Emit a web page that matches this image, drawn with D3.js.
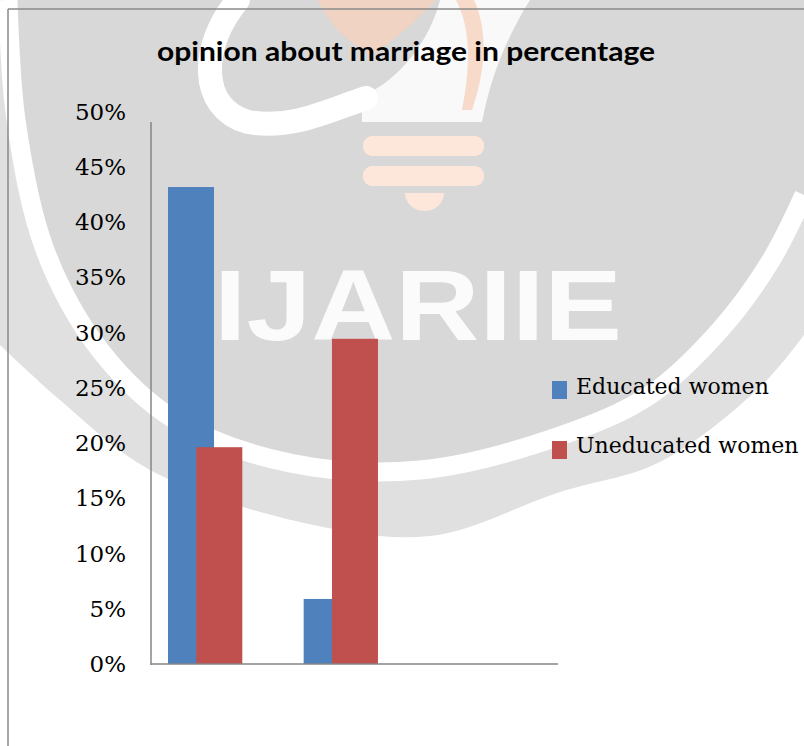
<!DOCTYPE html>
<html>
<head>
<meta charset="utf-8">
<script src="https://cdn.jsdelivr.net/npm/d3@7"></script>
<style>
  html, body { margin: 0; padding: 0; background: #ffffff; }
  svg { display: block; }
</style>
</head>
<body>
<svg id="chart" width="804" height="746"></svg>
<script>
// ---- data ----
const categories = ["Group 1", "Group 2", "Group 3"];
const educatedWomen = [0.44, 0.06, null];
const uneducatedWomen = [0.20, 0.30, null];
const seriesNames = ["Educated women", "Uneducated women"];
const seriesColors = ["#4F81BD", "#C0504D"];
const tickValues = [0, 0.05, 0.10, 0.15, 0.20, 0.25, 0.30, 0.35, 0.40, 0.45, 0.50];
const titleText = "opinion about marriage in percentage";

const svg = d3.select("#chart");

// ---- watermark (background logo, decorative) ----
const wm = svg.append("g");
const smooth = d3.line().curve(d3.curveCatmullRom.alpha(0.5));
const outerEdge = [[804, 335], [760, 387], [660, 462], [560, 492], [430, 536], [300, 522], [150, 470], [60, 400], [0, 345]];
wm.append("path")
  .attr("d", "M0,0 L804,0 " + smooth(outerEdge).replace(/^M/, "L") + " Z")
  .attr("fill", "#e0e0e0");
const ringPts = [[8, 0], [16, 120], [45, 250], [100, 350], [175, 420], [290, 463], [420, 470], [560, 436], [650, 395], [720, 330], [770, 262], [804, 195]];
wm.append("path")
  .attr("d", smooth(ringPts) + " L804,0 Z")
  .attr("fill", "#d8d8d8");
wm.append("path").attr("d", smooth(ringPts))
  .attr("fill", "none").attr("stroke", "#ffffff").attr("stroke-width", 19);
// bulb
wm.append("path").attr("d", "M 362 96 L 362 122 L 482 122 C 490 80, 505 40, 530 0 L 440 0 C 430 40, 400 80, 362 96 Z")
  .attr("fill", "#ffffff").attr("opacity", 0.85);
wm.append("path").attr("d", "M 238 0 C 200 45, 198 108, 248 122 C 292 130, 330 110, 366 98")
  .attr("fill", "none").attr("stroke", "#ffffff").attr("stroke-width", 24).attr("stroke-linecap", "round");
// flame
wm.append("path").attr("d", "M 318 0 C 330 28, 350 42, 372 56 C 392 40, 412 26, 436 0 Z")
  .attr("fill", "#f6d2bd").attr("opacity", 0.8);
wm.append("path").attr("d", "M 456 0 C 472 30, 470 70, 462 110 L 472 110 C 486 70, 488 30, 474 0 Z")
  .attr("fill", "#f6d2bd").attr("opacity", 0.8);
// bulb base
wm.append("rect").attr("x", 363).attr("y", 136).attr("width", 121).attr("height", 20).attr("rx", 9).attr("fill", "#fde7da");
wm.append("rect").attr("x", 363).attr("y", 166).attr("width", 121).attr("height", 20).attr("rx", 9).attr("fill", "#fde7da");
wm.append("path").attr("d", "M 405 193 L 444 193 A 19.5 18 0 0 1 405 193 Z").attr("fill", "#fde7da");
// logo text
wm.append("text").attr("x", 214).attr("y", 340)
  .attr("font-family", "Liberation Sans, Arial, sans-serif").attr("font-weight", "bold")
  .attr("font-size", 100).attr("fill", "#ffffff").attr("opacity", 0.9)
  .attr("textLength", 408).attr("lengthAdjust", "spacingAndGlyphs")
  .text("IJARIIE");

// ---- frame ----
svg.append("line").attr("x1", 8).attr("y1", 9).attr("x2", 804).attr("y2", 9).attr("stroke", "#8a8a8a").attr("stroke-width", 1.5);
svg.append("line").attr("x1", 8).attr("y1", 9).attr("x2", 8).attr("y2", 746).attr("stroke", "#8a8a8a").attr("stroke-width", 1.5);

// ---- title ----
svg.append("text").attr("x", 406).attr("y", 61).attr("text-anchor", "middle")
  .attr("font-family", "Lato, 'Open Sans', sans-serif").attr("font-weight", "bold").attr("font-size", 26)
  .attr("fill", "#000").attr("textLength", 498).attr("lengthAdjust", "spacingAndGlyphs")
  .text(titleText);

// ---- scales ----
const x = d3.scaleBand().domain(categories).range([151, 558]).padding(0);
const y = d3.scaleLinear().domain([0, 0.5]).range([664, 122]);
const yLabel = d3.scaleLinear().domain([0, 0.5]).range([671.5, 119]);

// ---- y tick labels ----
const yAxis = d3.axisLeft(yLabel).tickValues(tickValues).tickSize(0).tickPadding(0)
  .tickFormat(d3.format(".0%"));
const gy = svg.append("g").attr("transform", "translate(126,0)").call(yAxis);
gy.select(".domain").remove();
gy.selectAll("text").attr("dy", 0).attr("x", 0)
  .attr("font-family", "'DejaVu Serif', serif").attr("font-size", 23).attr("fill", "#000");

// ---- bars ----
const series = [educatedWomen, uneducatedWomen];
const offsets = [0.1253, 0.334];
const widthFrac = 0.339;
series.forEach((vals, si) => {
  svg.append("g").selectAll("rect")
    .data(categories.map((c, i) => ({ c, v: vals[i] })).filter(d => d.v != null))
    .join("rect")
    .attr("x", d => x(d.c) + offsets[si] * x.bandwidth())
    .attr("width", widthFrac * x.bandwidth())
    .attr("y", d => y(d.v))
    .attr("height", d => y(0) - y(d.v))
    .attr("fill", seriesColors[si]);
});

// ---- axes lines ----
svg.append("line").attr("x1", 151).attr("x2", 151).attr("y1", y(0.5)).attr("y2", y(0) + 1)
  .attr("stroke", "#868686").attr("stroke-width", 1.5);
svg.append("line").attr("x1", x.range()[0]).attr("x2", x.range()[1]).attr("y1", y(0)).attr("y2", y(0))
  .attr("stroke", "#868686").attr("stroke-width", 1.5);

// ---- legend ----
const lg = svg.append("g").attr("transform", "translate(552,381)");
seriesNames.forEach((name, i) => {
  lg.append("rect").attr("x", 0).attr("y", i * 60).attr("width", 15).attr("height", 18).attr("fill", seriesColors[i]);
  lg.append("text").attr("x", 24).attr("y", i * 59 + 13)
    .attr("font-family", "'DejaVu Serif', serif").attr("font-size", 22).attr("fill", "#000")
    .text(name);
});
</script>
</body>
</html>
